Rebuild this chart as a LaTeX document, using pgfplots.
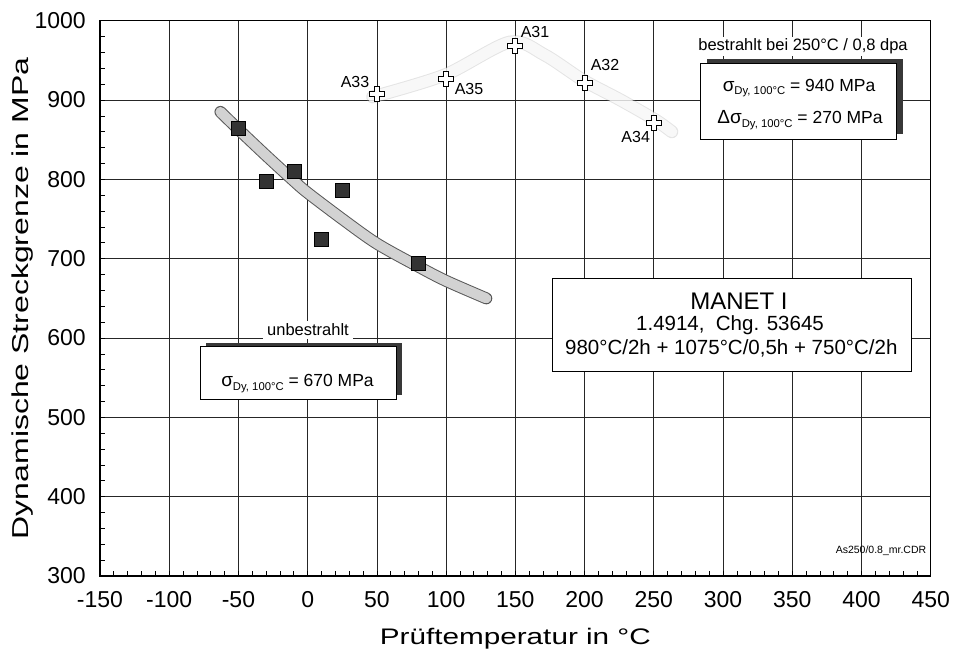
\documentclass[border=0pt]{standalone}
\usepackage{fontspec}
\setmainfont{Liberation Sans}
\usepackage{graphicx}
\usepackage{pgfplots}
\pgfplotsset{compat=1.18}

\pgfdeclareplotmark{fatplus}{%
\pgfpathmoveto{\pgfqpoint{-2.5pt}{7.5pt}}%
\pgfpathlineto{\pgfqpoint{2.5pt}{7.5pt}}%
\pgfpathlineto{\pgfqpoint{2.5pt}{2.5pt}}%
\pgfpathlineto{\pgfqpoint{7.5pt}{2.5pt}}%
\pgfpathlineto{\pgfqpoint{7.5pt}{-2.5pt}}%
\pgfpathlineto{\pgfqpoint{2.5pt}{-2.5pt}}%
\pgfpathlineto{\pgfqpoint{2.5pt}{-7.5pt}}%
\pgfpathlineto{\pgfqpoint{-2.5pt}{-7.5pt}}%
\pgfpathlineto{\pgfqpoint{-2.5pt}{-2.5pt}}%
\pgfpathlineto{\pgfqpoint{-7.5pt}{-2.5pt}}%
\pgfpathlineto{\pgfqpoint{-7.5pt}{2.5pt}}%
\pgfpathlineto{\pgfqpoint{-2.5pt}{2.5pt}}%
\pgfpathclose
\pgfusepathqfillstroke}

\newcommand{\sdy}{\raisebox{-3.5pt}{\fontsize{11.3}{12}\selectfont Dy, 100°C}}
\newcommand{\sig}{{\fontsize{19}{19}\selectfont σ}}

\begin{document}
\begin{tikzpicture}
\path[use as bounding box] (-100pt,-77pt) rectangle (853pt,576pt);
\begin{axis}[
  at={(0pt,0pt)}, anchor=south west,
  scale only axis, width=830.7pt, height=555.3pt,
  xmin=-150, xmax=450, ymin=300, ymax=1000,
  xtick={-150,-100,...,450}, ytick={300,400,...,1000},
  minor x tick num=4, minor y tick num=4,
  xtick pos=left, ytick pos=left,
  tick align=inside,
  major tick length=5pt, minor tick length=5pt,
  tick style={black, line width=0.7pt},
  grid=major,
  major grid style={black!85, line width=0.8pt},
  axis line style={black, line width=1.3pt},
  /pgf/number format/assume math mode=true,
  /pgf/number format/1000 sep={},
  ticklabel style={font=\fontsize{23}{23}\selectfont, inner sep=0pt},
  xticklabel style={anchor=north, yshift=-15.7pt},
  yticklabel style={anchor=east, xshift=-14pt},
  xlabel={\scalebox{1.32}[1]{Prüftemperatur in °C}},
  ylabel={\scalebox{1.39}[1]{Dynamische Streckgrenze in MPa}},
  xlabel style={font=\fontsize{22.5}{24}\selectfont, at={(axis description cs:0.5,-0.1225)}, anchor=base},
  ylabel style={font=\fontsize{23}{24}\selectfont, at={(axis description cs:-0.0863,0.5)}, rotate=0, anchor=base},
]
% unirradiated scatter band
\addplot[smooth, black!65, line width=12pt, line cap=round] coordinates {
(-63,885) (-50,863) (-30,830) (-10,798) (0,783) (25,750) (50,719) (80,690) (100,672) (129,650)};
\addplot[smooth, gray!35, line width=10pt, line cap=round] coordinates {
(-63,885) (-50,863) (-30,830) (-10,798) (0,783) (25,750) (50,719) (80,690) (100,672) (129,650)};
% irradiated scatter band
\addplot[smooth, gray!70, line width=13pt, line cap=round, opacity=0.3] coordinates {
(47,904) (99,931.6) (146,973) (171,957) (199,925) (226,900) (251,875) (263,860)};
\addplot[smooth, white, line width=11pt, line cap=round, opacity=0.75] coordinates {
(47,904) (99,931.6) (146,973) (171,957) (199,925) (226,900) (251,875) (263,860)};
% unirradiated
\addplot[only marks, mark=square*, mark size=7pt, mark options={fill=black!80, draw=black}] coordinates {
(-50,865) (-30,798) (-10,810) (10,724) (25,786) (80,694)};
% irradiated
\addplot[only marks, mark=fatplus, mark options={fill=white, draw=black, line width=1.1pt}] coordinates {
(50,907.6) (100,926.5) (150,968.5) (200,921.1) (250,871.4)};
\end{axis}
\begin{scope}[x=1pt,y=-1pt,shift={(-100pt,576pt)}]
% point labels
\begin{scope}[every node/.style={font=\fontsize{16}{16}\selectfont, anchor=base, inner sep=0pt}]
\node at (355,87.3) {A33};
\node at (469,95) {A35};
\node at (535,37.3) {A31};
\node at (605,70.7) {A32};
\node at (635.7,142.7) {A34};
\end{scope}
% irradiated box
\node[anchor=base, fill=white, inner xsep=3pt, inner ysep=2pt, font=\fontsize{16.5}{17}\selectfont] at (803,50.7) {bestrahlt bei 250°C / 0,8 dpa};
\fill[black!78] (707,59) rectangle (903,134);
\draw[fill=white, line width=0.9pt] (700,63.3) rectangle (896,139.3);
\node[anchor=base, font=\fontsize{17.5}{18}\selectfont, inner sep=0pt] at (799,91.5) {\sig\sdy\ = 940 MPa};
\node[anchor=base, font=\fontsize{17.5}{18}\selectfont, inner sep=0pt] at (800,124) {{\fontsize{19}{19}\selectfont Δσ}\sdy\ = 270 MPa};
% MANET box
\draw[fill=white, line width=0.9pt] (552.3,278.3) rectangle (911.7,371.7);
\node[anchor=base, font=\fontsize{24}{24}\selectfont, inner sep=0pt] at (739,310) {MANET I};
\node[anchor=base, font=\fontsize{20.5}{21}\selectfont, inner sep=0pt] at (730,330.7) {1.4914,\ \ Chg. 53645};
\node[anchor=base, font=\fontsize{20.5}{21}\selectfont, inner sep=0pt] at (731.3,355) {980°C/2h + 1075°C/0,5h + 750°C/2h};
% unirradiated box
\node[anchor=base, fill=white, inner xsep=4pt, inner ysep=3pt, font=\fontsize{16.5}{17}\selectfont] at (308,336) {unbestrahlt};
\fill[black!78] (206,343.2) rectangle (402,395.5);
\draw[fill=white, line width=0.9pt] (200,346.7) rectangle (396,399);
\node[anchor=base, font=\fontsize{17.5}{18}\selectfont, inner sep=0pt] at (297.5,387) {\sig\sdy\ = 670 MPa};
% file tag
\node[anchor=base, font=\fontsize{10.5}{11}\selectfont, inner sep=0pt] at (881,554) {As250/0.8\_mr.CDR};
\end{scope}
\end{tikzpicture}
\end{document}
